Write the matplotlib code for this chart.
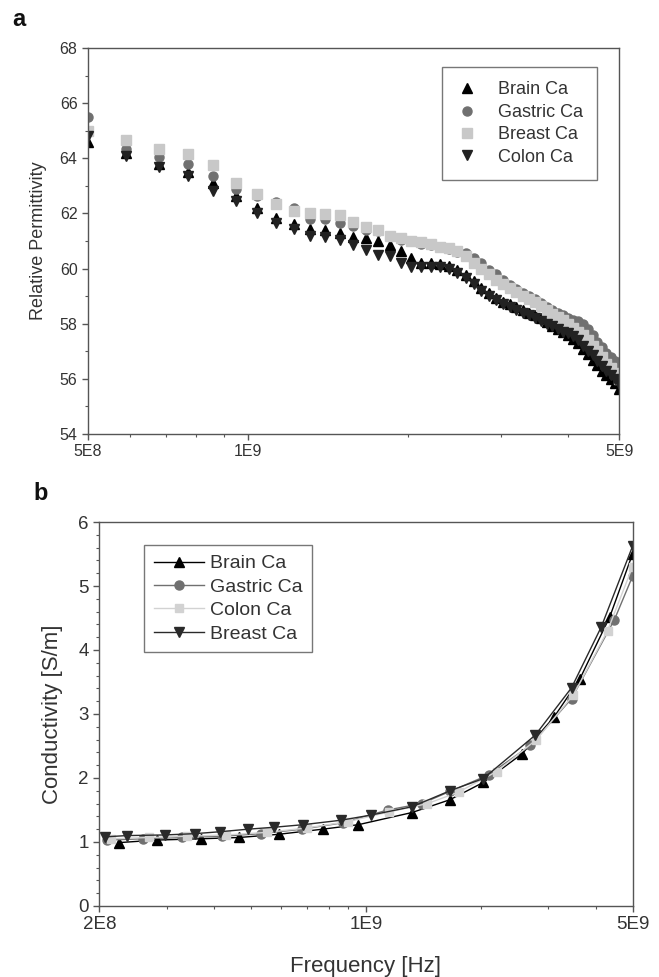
import matplotlib
matplotlib.use("Agg")
import matplotlib.pyplot as plt
from matplotlib.ticker import LogLocator, FixedLocator, MultipleLocator, NullFormatter

plt.rcParams['font.family'] = ['Liberation Sans', 'DejaVu Sans']

# ---------------- Panel a data (frequency in MHz) ----------------
freq_a_mhz = [500, 590, 680, 770, 860, 950, 1040, 1130, 1220, 1310,
              1400, 1490, 1580, 1670, 1760, 1850, 1940, 2030, 2120, 2210,
              2300, 2390, 2480, 2570, 2660, 2750, 2840, 2930, 3020, 3110,
              3200, 3290, 3380, 3470, 3560, 3650, 3740, 3830, 3920, 4010,
              4100, 4190, 4280, 4370, 4460, 4550, 4640, 4730, 4820, 4910, 5000]
brain_a = [64.6, 64.2, 63.8, 63.5, 63.1, 62.65, 62.2, 61.85, 61.6, 61.45,
           61.4, 61.3, 61.15, 61.1, 61.0, 60.85, 60.65, 60.4, 60.2, 60.2,
           60.15, 60.1, 59.95, 59.75, 59.55, 59.3, 59.1, 58.95, 58.8, 58.7,
           58.6, 58.5, 58.4, 58.3, 58.2, 58.05, 57.9, 57.8, 57.7, 57.6,
           57.45, 57.3, 57.1, 56.9, 56.7, 56.5, 56.3, 56.15, 56.0, 55.85, 55.65]
gastric_a = [65.5, 64.35, 64.05, 63.8, 63.35, 62.9, 62.65, 62.4, 62.2, 61.8,
             61.8, 61.65, 61.55, 61.4, 61.35, 61.2, 61.05, 61.0, 60.9, 60.85,
             60.8, 60.7, 60.6, 60.55, 60.4, 60.2, 59.95, 59.8, 59.6, 59.4,
             59.25, 59.1, 59.0, 58.9, 58.75, 58.6, 58.5, 58.4, 58.3, 58.2,
             58.15, 58.1, 58.0, 57.8, 57.6, 57.35, 57.15, 56.95, 56.8, 56.65, 56.5]
breast_a = [65.0, 64.65, 64.35, 64.15, 63.75, 63.1, 62.7, 62.35, 62.1, 62.0,
            61.97, 61.95, 61.7, 61.5, 61.4, 61.2, 61.1, 61.0, 60.95, 60.9,
            60.8, 60.75, 60.65, 60.45, 60.2, 60.0, 59.8, 59.6, 59.45, 59.3,
            59.15, 59.0, 58.9, 58.8, 58.65, 58.5, 58.35, 58.25, 58.15, 58.0,
            57.85, 57.7, 57.6, 57.4, 57.2, 57.0, 56.8, 56.55, 56.4, 56.2, 56.0]
colon_a = [64.8, 64.1, 63.7, 63.35, 62.8, 62.45, 62.0, 61.67, 61.45, 61.2,
           61.15, 61.05, 60.86, 60.68, 60.5, 60.46, 60.2, 60.07, 60.05, 60.05,
           60.05, 60.0, 59.85, 59.65, 59.45, 59.2, 59.0, 58.85, 58.7, 58.6,
           58.5, 58.4, 58.3, 58.2, 58.1, 58.0, 57.9, 57.8, 57.7, 57.65,
           57.55, 57.4, 57.2, 57.0, 56.85, 56.65, 56.45, 56.3, 56.15, 56.0, 55.8]

# ---------------- Panel b data (frequency in MHz) ----------------
brain_b_f = [225, 283, 370, 465, 590, 770, 955, 1320, 1660, 2030, 2570, 3120, 3640, 4360, 5000]
brain_b = [0.99, 1.03, 1.05, 1.07, 1.12, 1.2, 1.27, 1.46, 1.66, 1.93, 2.38, 2.96, 3.55, 4.52, 5.5]
gastric_b_f = [210, 260, 330, 420, 530, 680, 870, 1140, 1400, 1660, 2100, 2700, 3460, 4480, 5000]
gastric_b = [1.03, 1.05, 1.07, 1.09, 1.13, 1.2, 1.3, 1.5, 1.6, 1.79, 2.05, 2.51, 3.24, 4.47, 5.15]
colon_b_f = [215, 270, 340, 430, 550, 700, 900, 1150, 1450, 1750, 2200, 2800, 3500, 4300, 5000]
colon_b = [1.05, 1.07, 1.09, 1.11, 1.15, 1.22, 1.32, 1.47, 1.6, 1.78, 2.1, 2.6, 3.3, 4.3, 5.3]
breast_b_f = [207, 236, 297, 356, 414, 491, 574, 684, 860, 1030, 1320, 1660, 2030, 2780, 3460, 4140, 5000]
breast_b = [1.08, 1.1, 1.11, 1.13, 1.16, 1.2, 1.23, 1.27, 1.34, 1.42, 1.55, 1.8, 1.99, 2.67, 3.41, 4.36, 5.62]

xticks_a = [5e8, 1e9, 5e9]
xticklabels_a = ["5E8", "1E9", "5E9"]
xticks_b = [2e8, 1e9, 5e9]
xticklabels_b = ["2E8", "1E9", "5E9"]

SPINE = "#555555"
TXT = "#333333"

fig = plt.figure(figsize=(6.59, 9.77), dpi=100)

def hz(lst):
    return [v * 1e6 for v in lst]

def style_axes(ax, fs):
    for s in ax.spines.values():
        s.set_color(SPINE)
        s.set_linewidth(1.0)
    ax.tick_params(which='both', direction='out', color=SPINE, top=False, right=False,
                   labelcolor=TXT, labelsize=fs)
    ax.tick_params(which='major', length=4, width=1)
    ax.tick_params(which='minor', length=2.5, width=0.8)

# ---------------- Panel a ----------------
axa = fig.add_axes([0.1335, 0.5558, 0.806, 0.395])
axa.set_xscale('log')
fa = hz(freq_a_mhz)
axa.plot(fa, brain_a, linestyle='none', marker='^', ms=7.5, color='#000000', label='Brain Ca')
axa.plot(fa, gastric_a, linestyle='none', marker='o', ms=6.5, color='#707070', label='Gastric Ca')
axa.plot(fa, breast_a, linestyle='none', marker='s', ms=6.5, color='#c8c8c8', label='Breast Ca')
axa.plot(fa, colon_a, linestyle='none', marker='v', ms=7.5, color='#222222', label='Colon Ca')
axa.set_xlim(5e8, 5e9)
axa.set_ylim(54, 68)
axa.xaxis.set_major_locator(FixedLocator(xticks_a))
axa.set_xticklabels(xticklabels_a)
axa.xaxis.set_minor_locator(LogLocator(base=10, subs=range(2, 10)))
axa.xaxis.set_minor_formatter(NullFormatter())
axa.yaxis.set_major_locator(MultipleLocator(2))
axa.yaxis.set_minor_locator(MultipleLocator(1))
style_axes(axa, 11.5)
axa.set_ylabel("Relative Permittivity", fontsize=13, color=TXT, labelpad=9)
lega = axa.legend(loc='upper right', bbox_to_anchor=(0.9586, 0.951), fontsize=13,
                  frameon=True, fancybox=False, handletextpad=1.1, borderpad=0.8,
                  labelspacing=0.3, handlelength=1.2, borderaxespad=0)
lega.get_frame().set_edgecolor(SPINE)
lega.get_frame().set_linewidth(1.0)
for t in lega.get_texts():
    t.set_color(TXT)

# ---------------- Panel b ----------------
axb = fig.add_axes([0.1508, 0.0727, 0.809, 0.393])
axb.set_xscale('log')
axb.plot(hz(brain_b_f), brain_b, '-', marker='^', ms=7, lw=1.0, color='#000000', label='Brain Ca')
axb.plot(hz(gastric_b_f), gastric_b, '-', marker='o', ms=6.5, lw=1.0, color='#707070', label='Gastric Ca')
axb.plot(hz(colon_b_f), colon_b, '-', marker='s', ms=5.5, lw=1.0, color='#d2d2d2', label='Colon Ca')
axb.plot(hz(breast_b_f), breast_b, '-', marker='v', ms=7, lw=1.0, color='#2a2a2a', label='Breast Ca')
axb.set_xlim(2e8, 5e9)
axb.set_ylim(0, 6)
axb.xaxis.set_major_locator(FixedLocator(xticks_b))
axb.set_xticklabels(xticklabels_b)
axb.xaxis.set_minor_locator(LogLocator(base=10, subs=range(2, 10)))
axb.xaxis.set_minor_formatter(NullFormatter())
axb.yaxis.set_major_locator(MultipleLocator(1))
axb.yaxis.set_minor_locator(MultipleLocator(0.2))
style_axes(axb, 13.5)
axb.set_ylabel("Conductivity [S/m]", fontsize=16, color=TXT, labelpad=11)
axb.set_xlabel("Frequency [Hz]", fontsize=16, color=TXT, labelpad=16)
legb = axb.legend(loc='upper left', bbox_to_anchor=(0.0836, 0.940), fontsize=14,
                  frameon=True, fancybox=False, handletextpad=0.3, borderpad=0.5,
                  labelspacing=0.3, handlelength=2.6, borderaxespad=0)
legb.get_frame().set_edgecolor(SPINE)
legb.get_frame().set_linewidth(1.0)
for t in legb.get_texts():
    t.set_color(TXT)

# Panel letters
fig.text(12 / 659, 1 - 26 / 977, "a", fontsize=17, fontweight='bold', color='#111111')
fig.text(33 / 659, 1 - 500 / 977, "b", fontsize=17, fontweight='bold', color='#111111')

fig.savefig("out.png", dpi=100)
